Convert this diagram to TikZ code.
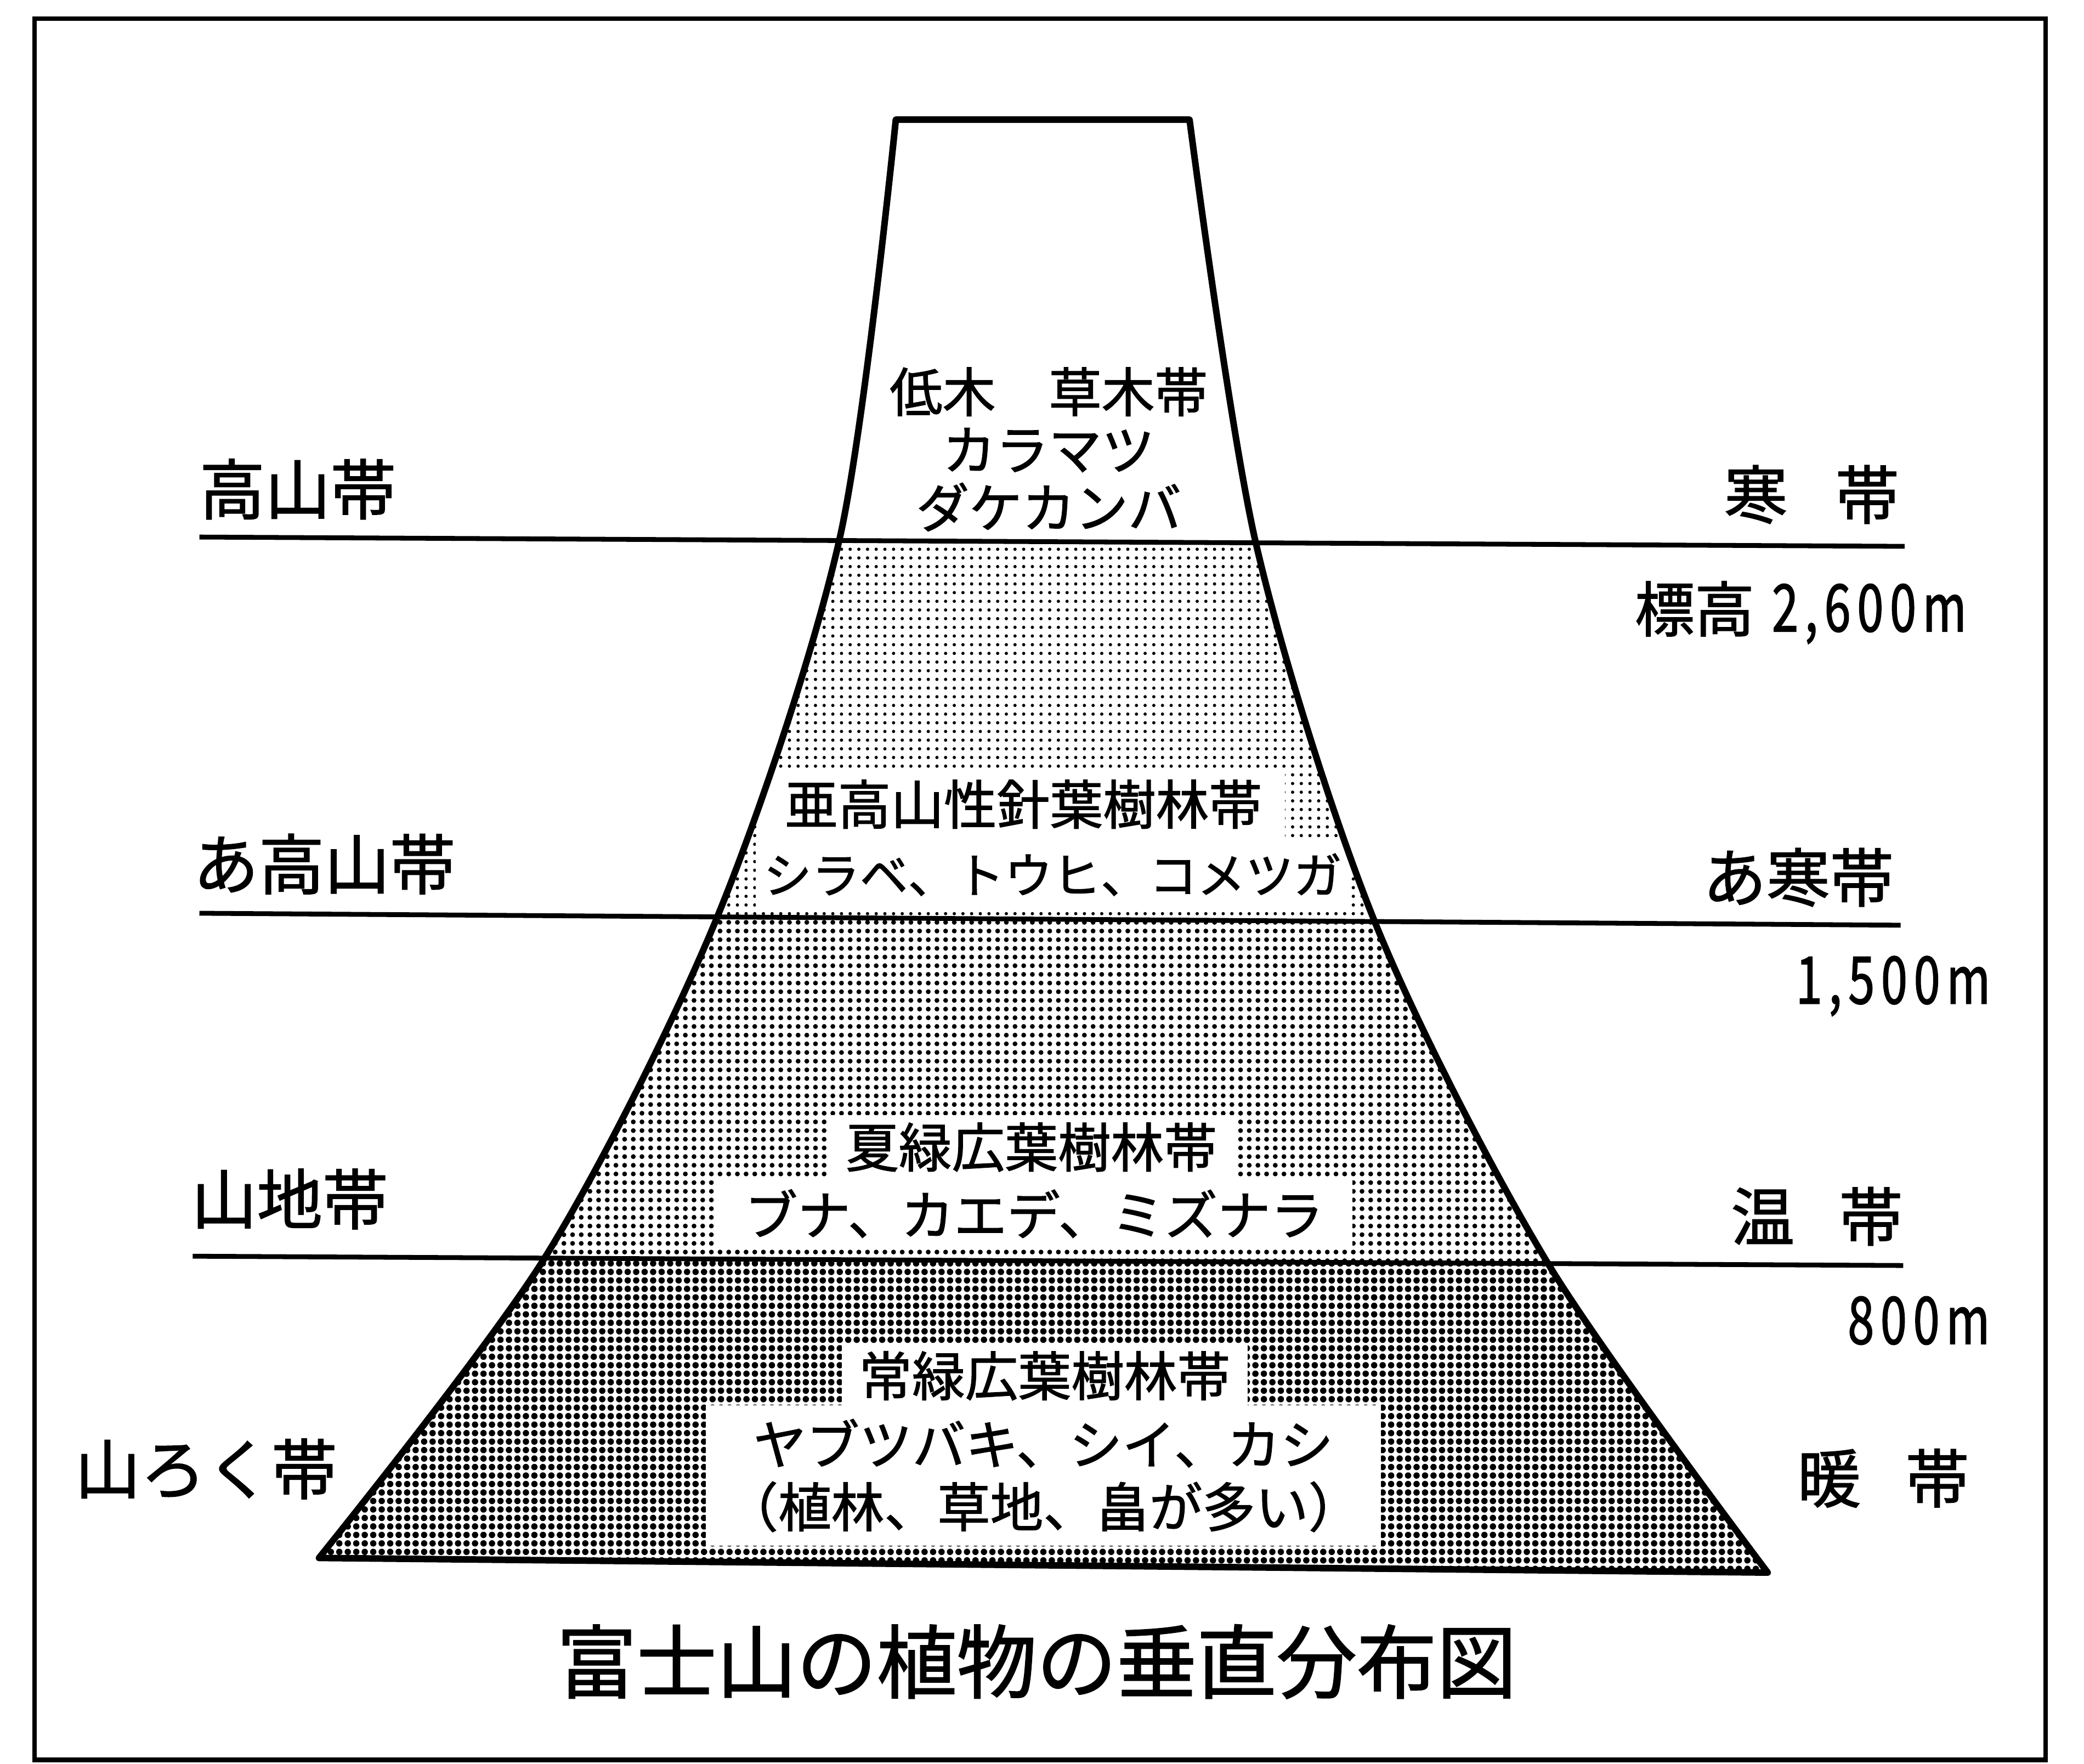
\documentclass[tikz,border=0pt]{standalone}
\usepackage{fontspec}
\setmainfont{Noto Sans CJK JP}[FakeBold=1.4]
\newfontfamily\numfont[FakeStretch=0.72,LetterSpace=10,FakeBold=1.4]{Noto Sans CJK JP}
\usetikzlibrary{patterns.meta}
\newcommand\mtpath{(674,90) -- (895,90) -- plot[smooth] coordinates {(895,90) (945,409) (1035,695) (1165,951) (1330,1183)} -- (240,1172) -- plot[smooth] coordinates {(240,1172) (410,946) (540,689) (632,404) (674,90)} -- cycle}
\begin{document}
\begin{tikzpicture}[x=0.024235cm, y=-0.024235cm,
  frame/.style={line width=2.4pt},
  mount/.style={line width=3.4pt, line join=round},
  zone/.style={line width=2.5pt},
  inner/.style={font=\fontsize{27.5pt}{30pt}\selectfont, inner sep=0pt},
  boxed/.style={inner, fill=white, inner xsep=10pt, inner ysep=4pt},
  side/.style={font=\fontsize{34pt}{40pt}\selectfont, inner sep=0pt},
  rside/.style={font=\fontsize{33pt}{40pt}\selectfont, inner sep=0pt},
  num/.style={font=\fontsize{34pt}{40pt}\numfont, inner sep=0pt},
  titlefont/.style={font=\fontsize{41.5pt}{48pt}\selectfont, inner sep=0pt}]
\useasboundingbox (0,0) rectangle (1568,1327);
\fill[white] (0,0) rectangle (1568,1327);
% frame
\draw[frame] (26,14) rectangle (1539,1324);
% bands
\begin{scope}
  \clip \mtpath;
  \fill[pattern={Dots[distance=4.5pt, radius=0.85pt]}] (0,403.3) -- (1568,411.5) -- (1568,697.5) -- (0,686.2) -- cycle;
  \fill[pattern={Dots[distance=4.5pt, radius=1.25pt]}] (0,686.2) -- (1568,697.5) -- (1568,953) -- (0,944.2) -- cycle;
  \fill[pattern={Dots[distance=4.4pt, radius=1.65pt]}] (0,944.2) -- (1568,953) -- (1568,1200) -- (0,1200) -- cycle;
\end{scope}
% white label boxes and texts
\node[inner, align=center, font=\fontsize{27.5pt}{30pt}\selectfont] (top) at (789,338) {低木　草木帯\\カラマツ\\ダケカンバ};
\node[boxed, inner xsep=12pt, inner ysep=6pt] (b2a) at (770,605) {亜高山性針葉樹林帯};
\node[boxed, font=\fontsize{25pt}{30pt}\selectfont, inner xsep=4pt, inner ysep=6pt] (b2b) at (792,658) {シラベ、トウヒ、コメツガ};
\node[boxed] (b3a) at (776,863) {夏緑広葉樹林帯};
\node[boxed, inner xsep=15pt, inner ysep=5pt] (b3b) at (778,913) {ブナ、カエデ、ミズナラ};
\node[boxed, inner xsep=9pt] (b4a) at (786,1035) {常緑広葉樹林帯};
\node[boxed, align=center, font=\fontsize{27.5pt}{32.4pt}\selectfont, inner xsep=10pt, inner ysep=7pt] (b4b) at (785,1110) {ヤブツバキ、シイ、カシ\\（植林、草地、畠が多い）};
% zone lines
\draw[zone] (150,404) -- (1433,411);
\draw[zone] (150,687) -- (1430,696);
\draw[zone] (145,945) -- (1432,952);
% mountain outline
\draw[mount] \mtpath;
% left labels
\node[side] (kozan) at (224,368) {高山帯};
\node[side] (akozan) at (244,650) {あ高山帯};
\node[side] (sanchi) at (218,902) {山地帯};
\node[side] (sanroku) at (155,1105) {山ろく帯};
% right labels
\node[rside] (kan) at (1363,372) {寒\hspace{0.75em}帯};
\node[rside] (akan) at (1353,660) {あ寒帯};
\node[rside] (on) at (1367,915) {温\hspace{0.7em}帯};
\node[rside] (dan) at (1417,1112) {暖\hspace{0.7em}帯};
\node[rside, font=\fontsize{31pt}{36pt}\selectfont] (hyoko) at (1275,458) {標高};
\node[num, anchor=base west] (h2600) at (1333,475) {2,600m};
\node[num, anchor=base west] (h1500) at (1351,755) {1,500m};
\node[num, anchor=base west] (h800) at (1390,1011) {800m};
% title
\node[titlefont] (title) at (780,1250) {富士山の植物の垂直分布図};
\end{tikzpicture}
\end{document}
